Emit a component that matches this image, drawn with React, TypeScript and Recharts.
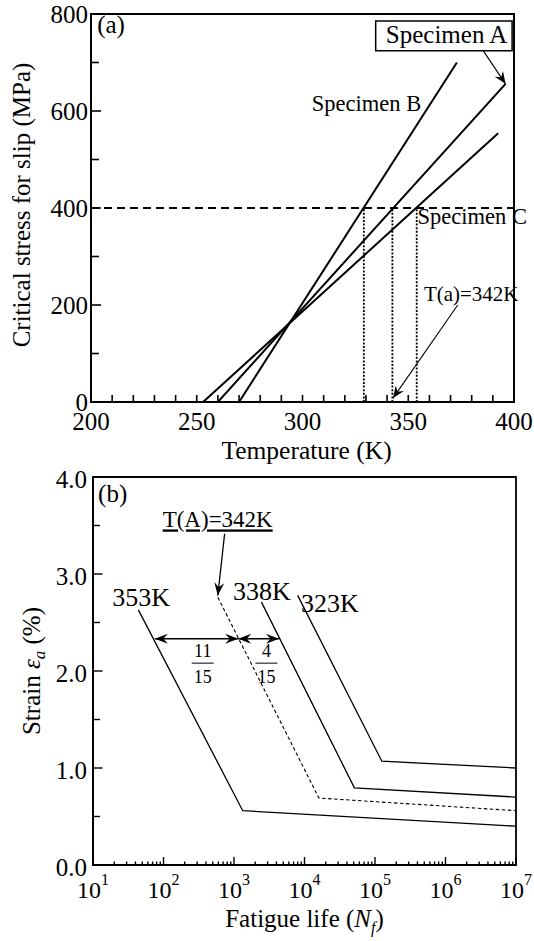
import React from 'react';
import { LineChart, Line, XAxis, YAxis, ReferenceLine, ReferenceDot, ReferenceArea } from 'recharts';

const FONT = '"Liberation Serif", "Times New Roman", serif';

// ---------- (a) critical stress for slip vs temperature ----------
const TEMP_TICKS = [200, 210, 220, 230, 240, 250, 260, 270, 280, 290, 300, 310, 320, 330, 340, 350, 360, 370, 380, 390, 400];
const STRESS_TICKS = [0, 100, 200, 300, 400, 500, 600, 700, 800];

const specimenA = [{ x: 260, y: 0 }, { x: 396, y: 656 }];
const specimenB = [{ x: 270, y: 0 }, { x: 373, y: 700 }];
const specimenC = [{ x: 253, y: 0 }, { x: 392.5, y: 554 }];

const THRESHOLD = 400;
// temperatures where each specimen reaches the threshold (B, A, C)
const CROSS_TEMPS = [329, 342.5, 354];

// ---------- (b) strain vs fatigue life ----------
const LIFE_DECADES = [10, 100, 1000, 10000, 100000, 1000000, 10000000];
const STRAIN_TICKS = [0, 0.5, 1, 1.5, 2, 2.5, 3, 3.5, 4];

const curve353 = [{ x: 44, y: 2.63 }, { x: 1330, y: 0.56 }, { x: 10000000, y: 0.4 }];
const curve342 = [{ x: 590, y: 2.76 }, { x: 16000, y: 0.69 }, { x: 10000000, y: 0.56 }];
const curve338 = [{ x: 2450, y: 2.71 }, { x: 51000, y: 0.795 }, { x: 10000000, y: 0.7 }];
const curve323 = [{ x: 8000, y: 2.78 }, { x: 125000, y: 1.07 }, { x: 10000000, y: 1.0 }];

const LIFE_TICKS = LIFE_DECADES.flatMap((d, i) =>
  i < LIFE_DECADES.length - 1 ? [d, 2 * d, 3 * d, 4 * d, 5 * d, 6 * d, 7 * d, 8 * d, 9 * d] : [d]
);

// annotations (anchor in data units, text baseline-left)
const notesA = [
  { x: 202.9, y: 761, text: '(a)', size: 25 },
  { x: 339.4, y: 740, text: 'Specimen A', size: 25 },
  { x: 304.4, y: 599, text: 'Specimen B', size: 22.5 },
  { x: 354.4, y: 367, text: 'Specimen C', size: 22.5 },
  { x: 357.4, y: 209, text: 'T(a)=342K', size: 21 },
];
const notesB = [
  { x: 11.8, y: 3.745, text: '(b)', size: 25, underline: false },
  { x: 97.3, y: 3.48, text: 'T(A)=342K', size: 23, underline: true },
  { x: 18.8, y: 2.675, text: '353K', size: 26, underline: false },
  { x: 970, y: 2.737, text: '338K', size: 26, underline: false },
  { x: 8930, y: 2.613, text: '323K', size: 26, underline: false },
];
const fractionsB = [
  { x: 360, y: 2.081, num: '11', den: '15' },
  { x: 2884, y: 2.081, num: '4', den: '15' },
];

const arrowHead = (tx: number, ty: number, fx: number, fy: number, L: number, W: number) => {
  const dx = tx - fx;
  const dy = ty - fy;
  const len = Math.hypot(dx, dy) || 1;
  const ux = dx / len;
  const uy = dy / len;
  const nx = -uy;
  const ny = ux;
  const pts = [
    [tx, ty],
    [tx - L * ux + W * nx, ty - L * uy + W * ny],
    [tx - L * 0.65 * ux, ty - L * 0.65 * uy],
    [tx - L * ux - W * nx, ty - L * uy - W * ny],
  ];
  return <polygon points={pts.map((p) => p.join(',')).join(' ')} fill="#000" stroke="none" />;
};

const makeArrow = (both: boolean, sw: number, L: number, W: number) => (p: any) => {
  const { x1, y1, x2, y2 } = p;
  return (
    <g>
      <line x1={x1} y1={y1} x2={x2} y2={y2} stroke="#000" strokeWidth={sw} />
      {arrowHead(x2, y2, x1, y1, L, W)}
      {both && arrowHead(x1, y1, x2, y2, L, W)}
    </g>
  );
};

const noteShape = (text: string, size: number, underline = false) => (p: any) => (
  <text
    x={p.cx}
    y={p.cy}
    fontSize={size}
    fontFamily={FONT}
    fill="#000"
    style={underline ? { textDecoration: 'underline' } : undefined}
  >
    {text}
  </text>
);

const TempTick = ({ x, y, payload }: any) => {
  const v = payload.value;
  return (
    <g>
      <line x1={x} y1={y} x2={x} y2={y - 7} stroke="#000" strokeWidth={1.6} />
      {v % 50 === 0 && (
        <text x={x} y={y + 28} textAnchor="middle" fontSize={25} fontFamily={FONT} fill="#000">
          {v}
        </text>
      )}
    </g>
  );
};

const StressTick = ({ x, y, payload }: any) => {
  const v = payload.value;
  const major = v % 200 === 0;
  return (
    <g>
      <line x1={x} y1={y} x2={x + (major ? 10 : 8)} y2={y} stroke="#000" strokeWidth={1.6} />
      {major && (
        <text x={x - 3} y={y + 9} textAnchor="end" fontSize={25} fontFamily={FONT} fill="#000">
          {v}
        </text>
      )}
    </g>
  );
};

const LifeTick = ({ x, y, payload }: any) => {
  const v = payload.value;
  const lg = Math.log10(v);
  const decade = Math.abs(lg - Math.round(lg)) < 1e-6;
  return (
    <g>
      <line x1={x} y1={y} x2={x} y2={y - (decade ? 8 : 3.5)} stroke="#000" strokeWidth={1.4} />
      {decade && (
        <text x={x} y={y + 33} textAnchor="middle" fontSize={24} fontFamily={FONT} fill="#000">
          10
          <tspan dy={-13} fontSize={16}>
            {Math.round(lg)}
          </tspan>
        </text>
      )}
    </g>
  );
};

const StrainTick = ({ x, y, payload }: any) => {
  const v = payload.value;
  const major = Number.isInteger(v);
  return (
    <g>
      <line x1={x} y1={y} x2={x + (major ? 9.5 : 7)} y2={y} stroke="#000" strokeWidth={1.4} />
      {major && (
        <text x={x - 6} y={y + 11} textAnchor="end" fontSize={25} fontFamily={FONT} fill="#000">
          {v.toFixed(1)}
        </text>
      )}
    </g>
  );
};

const lineProps = {
  type: 'linear' as const,
  dataKey: 'y',
  stroke: '#000',
  dot: false,
  activeDot: false,
  isAnimationActive: false,
};

const ChartA = () => (
  <LineChart width={534} height={470} margin={{ top: 14, right: 20, left: 0, bottom: 0 }}>
    <XAxis
      type="number"
      dataKey="x"
      domain={[200, 400]}
      ticks={TEMP_TICKS}
      interval={0}
      tickSize={0}
      tickMargin={0}
      tickLine={false}
      tick={<TempTick />}
      height={68}
      axisLine={{ stroke: '#000', strokeWidth: 2 }}
      allowDataOverflow
      label={{
        content: ({ viewBox }: any) => (
          <text
            x={viewBox.x + viewBox.width / 2 + 4}
            y={viewBox.y + 57}
            textAnchor="middle"
            fontSize={25.5}
            fontFamily={FONT}
            fill="#000"
          >
            Temperature (K)
          </text>
        ),
      }}
    />
    <YAxis
      type="number"
      domain={[0, 800]}
      ticks={STRESS_TICKS}
      interval={0}
      tickSize={0}
      tickMargin={0}
      tickLine={false}
      tick={<StressTick />}
      width={91}
      axisLine={{ stroke: '#000', strokeWidth: 2 }}
      allowDataOverflow
      label={{
        content: ({ viewBox }: any) => (
          <text
            transform={`translate(30, ${viewBox.y + viewBox.height / 2 - 3}) rotate(-90)`}
            textAnchor="middle"
            fontSize={25}
            fontFamily={FONT}
            fill="#000"
          >
            Critical stress for slip (MPa)
          </text>
        ),
      }}
    />
    <ReferenceArea x1={200} x2={400} y1={0} y2={800} fill="none" stroke="#000" strokeWidth={2} />
    <ReferenceArea x1={334.6} x2={399.1} y1={724.4} y2={785.5} fill="#fff" fillOpacity={1} stroke="#000" strokeWidth={1.5} />
    <ReferenceLine y={THRESHOLD} stroke="#000" strokeWidth={2} strokeDasharray="8 5" />
    {CROSS_TEMPS.map((t) => (
      <Line
        key={t}
        {...lineProps}
        data={[{ x: t, y: 0 }, { x: t, y: THRESHOLD }]}
        strokeWidth={1.8}
        strokeDasharray="2 1.6"
      />
    ))}
    <Line {...lineProps} data={specimenA} strokeWidth={2} />
    <Line {...lineProps} data={specimenB} strokeWidth={2} />
    <Line {...lineProps} data={specimenC} strokeWidth={2} />
    <ReferenceLine
      segment={[{ x: 385.5, y: 724 }, { x: 396, y: 656 }]}
      shape={makeArrow(false, 1.1, 12, 5)}
    />
    <ReferenceLine
      segment={[{ x: 373.4, y: 200 }, { x: 342.8, y: 8 }]}
      shape={makeArrow(false, 1.1, 12, 5)}
    />
    {notesA.map((n) => (
      <ReferenceDot key={n.text} x={n.x} y={n.y} r={2} shape={noteShape(n.text, n.size)} />
    ))}
  </LineChart>
);

const ChartB = () => (
  <LineChart width={534} height={491} margin={{ top: 27, right: 18, left: 0, bottom: 0 }}>
    <XAxis
      type="number"
      dataKey="x"
      scale="log"
      domain={[10, 10000000]}
      ticks={LIFE_TICKS}
      interval={0}
      tickSize={0}
      tickMargin={0}
      tickLine={false}
      tick={<LifeTick />}
      height={76}
      axisLine={{ stroke: '#000', strokeWidth: 1.8 }}
      allowDataOverflow
      label={{
        content: ({ viewBox }: any) => (
          <text
            x={viewBox.x + viewBox.width / 2}
            y={viewBox.y + 62}
            textAnchor="middle"
            fontSize={25}
            fontFamily={FONT}
            fill="#000"
          >
            Fatigue life (<tspan fontStyle="italic">N</tspan>
            <tspan fontStyle="italic" fontSize={16} dy={6}>
              f
            </tspan>
            <tspan dy={-6}>)</tspan>
          </text>
        ),
      }}
    />
    <YAxis
      type="number"
      domain={[0, 4]}
      ticks={STRAIN_TICKS}
      interval={0}
      tickSize={0}
      tickMargin={0}
      tickLine={false}
      tick={<StrainTick />}
      width={93}
      axisLine={{ stroke: '#000', strokeWidth: 1.8 }}
      allowDataOverflow
      label={{
        content: ({ viewBox }: any) => (
          <text
            transform={`translate(40, ${viewBox.y + viewBox.height / 2}) rotate(-90)`}
            textAnchor="middle"
            fontSize={25}
            fontFamily={FONT}
            fill="#000"
          >
            Strain <tspan fontStyle="italic">ε</tspan>
            <tspan fontStyle="italic" fontSize={17} dy={5}>
              a
            </tspan>
            <tspan dy={-5}> (%)</tspan>
          </text>
        ),
      }}
    />
    <ReferenceArea x1={10} x2={10000000} y1={0} y2={4} fill="none" stroke="#000" strokeWidth={1.8} />
    <Line {...lineProps} data={curve353} strokeWidth={1.3} />
    <Line {...lineProps} data={curve342} strokeWidth={1.1} strokeDasharray="3.5 2.5" />
    <Line {...lineProps} data={curve338} strokeWidth={1.3} />
    <Line {...lineProps} data={curve323} strokeWidth={1.3} />
    <ReferenceLine
      segment={[{ x: 736, y: 3.415 }, { x: 589, y: 2.778 }]}
      shape={makeArrow(false, 1.3, 13, 5)}
    />
    <ReferenceLine
      segment={[{ x: 75.4, y: 2.332 }, { x: 1148, y: 2.332 }]}
      shape={makeArrow(true, 1.6, 13, 5)}
    />
    <ReferenceLine
      segment={[{ x: 1148, y: 2.332 }, { x: 4335, y: 2.332 }]}
      shape={makeArrow(true, 1.6, 13, 5)}
    />
    {notesB.map((n) => (
      <ReferenceDot key={n.text} x={n.x} y={n.y} r={2} shape={noteShape(n.text, n.size, n.underline)} />
    ))}
    {fractionsB.map((f) => (
      <ReferenceDot
        key={f.x}
        x={f.x}
        y={f.y}
        r={2}
        shape={(p: any) => (
          <g>
            <text x={p.cx} y={p.cy - 6} textAnchor="middle" fontSize={18} fontFamily={FONT} fill="#000">
              {f.num}
            </text>
            <line x1={p.cx - 11} x2={p.cx + 11} y1={p.cy} y2={p.cy} stroke="#000" strokeWidth={1} />
            <text x={p.cx} y={p.cy + 20} textAnchor="middle" fontSize={18} fontFamily={FONT} fill="#000">
              {f.den}
            </text>
          </g>
        )}
      />
    ))}
  </LineChart>
);

export default function App() {
  return (
    <div style={{ position: 'absolute', left: 0, top: 0, width: 534, height: 941, background: '#fff', fontFamily: FONT }}>
      <div style={{ position: 'absolute', left: 0, top: 0 }}>
        <ChartA />
      </div>
      <div style={{ position: 'absolute', left: 0, top: 450 }}>
        <ChartB />
      </div>
    </div>
  );
}
